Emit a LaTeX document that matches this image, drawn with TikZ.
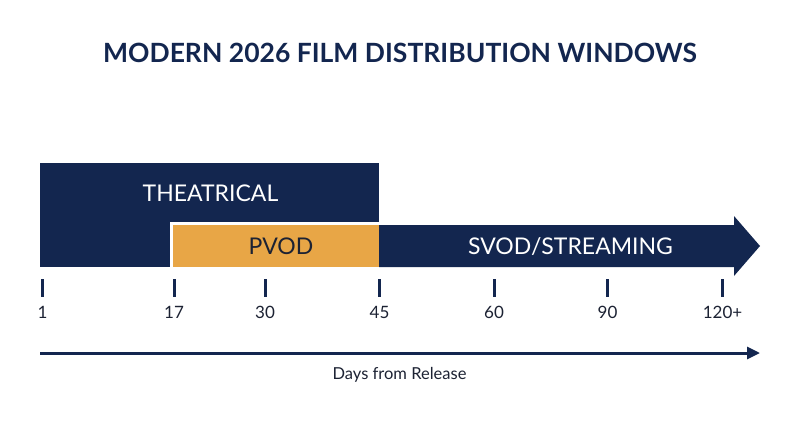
\documentclass[tikz,border=0pt]{standalone}
\usepackage{fontspec}
\setmainfont{Lato}
\usetikzlibrary{arrows.meta}
\definecolor{navy}{HTML}{13264F}
\definecolor{gold}{HTML}{E8A646}
\definecolor{inkdark}{HTML}{1C2233}
\tikzset{
  block/.style={draw=none, inner sep=0pt, anchor=north west},
  lab/.style={anchor=base, inner sep=0pt, font=\fontsize{23}{23}\selectfont},
  ticklab/.style={anchor=base, inner sep=0pt, text=inkdark, font=\fontsize{17}{17}\selectfont},
  tickmark/.style={navy, line width=3pt},
  axis/.style={navy, line width=3pt, -{Triangle[length=13pt, width=12pt]}},
}
\begin{document}
\begin{tikzpicture}[x=1pt,y=-1pt]
\useasboundingbox (0,0) rectangle (800,447);
\fill[white] (0,0) rectangle (800,447);

% title
\node[anchor=base, inner sep=0pt, text=navy, font=\fontsize{26.5}{26.5}\selectfont\bfseries] (title) at (400,62) {MODERN 2026 FILM DISTRIBUTION WINDOWS};

% theatrical block
\node[block, fill=navy, minimum width=339pt, minimum height=104pt] (theat) at (40,163) {};
% svod arrow
\fill[navy] (379,225) -- (734,225) -- (734,216) -- (760,246) -- (734,276) -- (734,267) -- (379,267) -- cycle;
% pvod block with white border
\node[block, fill=white, minimum width=209pt, minimum height=45pt] (pvodgap) at (170,222) {};
\node[block, fill=gold, minimum width=206pt, minimum height=42pt] (pvod) at (173,225) {};

\node[lab, text=white] (theatlab) at (210.5,201) {THEATRICAL};
\node[lab, text=inkdark] (pvodlab) at (281,254) {PVOD};
\node[lab, text=white] (svodlab) at (570.5,254) {SVOD/STREAMING};

% ticks
\foreach \n/\x/\t in {a/42.5/1, b/174/17, c/265/30, d/379.5/45, e/494/60, f/607.5/90, g/722.5/120+}{
  \coordinate (tt\n) at (\x,279);
  \coordinate (tb\n) at (\x,297);
  \draw[tickmark] (tt\n) -- (tb\n);
  \node[ticklab] (tl\n) at (\x,318) {\t};
}

% axis
\coordinate (axs) at (40,353);
\coordinate (axe) at (760,353);
\draw[axis] (axs) -- (axe);
\node[anchor=base, inner sep=0pt, text=inkdark, font=\fontsize{16.5}{16.5}\selectfont] (axlab) at (399.5,379) {Days from Release};
\end{tikzpicture}
\end{document}
